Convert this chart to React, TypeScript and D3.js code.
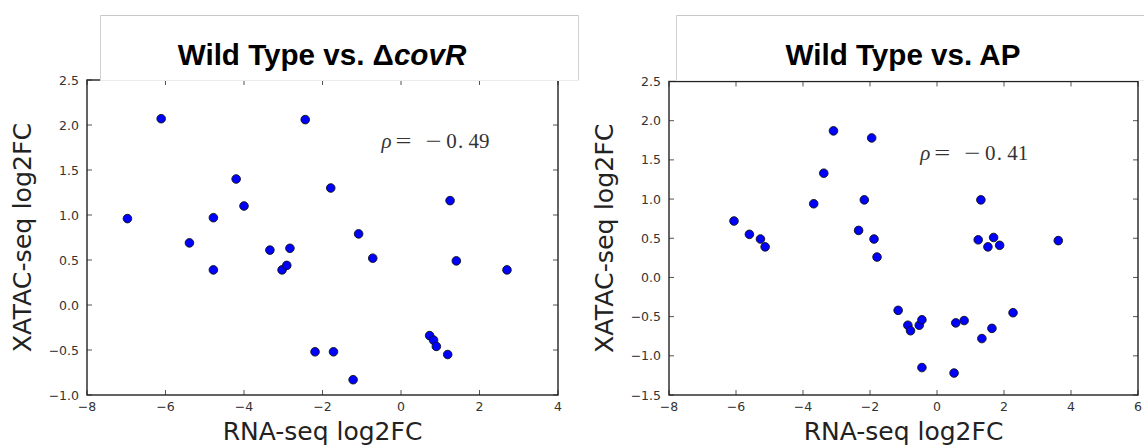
import React from 'react';
import * as d3 from 'd3';

// Wild Type vs. ΔcovR
const covrRna = [-6.97, -6.11, -5.39, -4.78, -4.78, -4.2, -4.0, -3.34, -3.03, -2.91, -2.83, -2.44, -2.19, -1.79, -1.72, -1.22, -1.08, -0.72, 0.73, 0.83, 0.9, 1.19, 1.25, 1.41, 2.7];
const covrAtac = [0.96, 2.07, 0.69, 0.97, 0.39, 1.4, 1.1, 0.61, 0.39, 0.44, 0.63, 2.06, -0.52, 1.3, -0.52, -0.83, 0.79, 0.52, -0.34, -0.39, -0.46, -0.55, 1.16, 0.49, 0.39];

// Wild Type vs. AP
const apRna = [-6.06, -5.6, -5.27, -5.13, -3.68, -3.38, -3.09, -2.34, -2.17, -1.95, -1.88, -1.79, -1.16, -0.87, -0.79, -0.53, -0.45, -0.45, 0.51, 0.56, 0.81, 1.23, 1.31, 1.34, 1.52, 1.64, 1.69, 1.87, 2.27, 3.62];
const apAtac = [0.72, 0.55, 0.49, 0.39, 0.94, 1.33, 1.87, 0.6, 0.99, 1.78, 0.49, 0.26, -0.42, -0.61, -0.68, -0.61, -0.54, -1.15, -1.22, -0.58, -0.55, 0.48, 0.99, -0.78, 0.39, -0.65, 0.51, 0.41, -0.45, 0.47];

const covrXTicks = [-8, -6, -4, -2, 0, 2, 4];
const covrYTicks = [-1, -0.5, 0, 0.5, 1, 1.5, 2, 2.5];
const apXTicks = [-8, -6, -4, -2, 0, 2, 4, 6];
const apYTicks = [-1.5, -1, -0.5, 0, 0.5, 1, 1.5, 2, 2.5];

const xLabel = 'RNA-seq log2FC';
const yLabel = 'XATAC-seq log2FC';

const fmtX = d3.format('d');
const fmtY = d3.format('.1f');

// mathtext style spacing for "ρ= −0. 49": [glyph, offset, horizontal stretch, italic]
const rhoParts = (r) => [
  ['ρ', 0, 1, true], ['=', 14, 1.35], ['−', 44, 1.35], ['0', 64.8, 1], ['.', 76.5, 1], [r[0], 87, 1], [r[1], 97.5, 1],
];

function Panel({ xs, ys, xTicks, yTicks, left, right, top, bottom, rho, rhoAt }) {
  const x = d3.scaleLinear().domain(d3.extent(xTicks)).range([left, right]);
  const y = d3.scaleLinear().domain(d3.extent(yTicks)).range([bottom, top]);
  const tk = 5;
  const midX = (left + right) / 2;
  const midY = (top + bottom) / 2;
  const rx = x(rhoAt[0]);
  const ry = y(rhoAt[1]);
  return (
    <g>
      {/* ticks on all four sides, pointing in */}
      {xTicks.map(t => (
        <g key={'x' + t} stroke="#555" strokeWidth={1}>
          <line x1={x(t)} x2={x(t)} y1={bottom} y2={bottom - tk} />
          <line x1={x(t)} x2={x(t)} y1={top} y2={top + tk} />
        </g>
      ))}
      {yTicks.map(t => (
        <g key={'y' + t} stroke="#555" strokeWidth={1}>
          <line x1={left} x2={left + tk} y1={y(t)} y2={y(t)} />
          <line x1={right} x2={right - tk} y1={y(t)} y2={y(t)} />
        </g>
      ))}
      <rect x={left} y={top} width={right - left} height={bottom - top} fill="none" stroke="#222" strokeWidth={1.4} />
      {xTicks.map(t => (
        <text key={'xl' + t} x={x(t)} y={bottom + 16} textAnchor="middle" fontFamily="DejaVu Sans" fontSize={12.5} fill="#333">
          {fmtX(t)}
        </text>
      ))}
      {yTicks.map(t => (
        <text key={'yl' + t} x={left - 8} y={y(t) + 4.5} textAnchor="end" fontFamily="DejaVu Sans" fontSize={12.5} fill="#333">
          {fmtY(t)}
        </text>
      ))}
      {xs.map((v, i) => (
        <circle key={i} cx={x(v)} cy={y(ys[i])} r={4.3} fill="#0000ff" stroke="#111" strokeWidth={0.9} />
      ))}
      <g fontFamily="Liberation Serif" fontSize={21} fill="#333">
        {rhoParts(rho).map(([s, dx, sx, it], i) => (
          <text key={i} transform={`translate(${rx + dx},${ry}) scale(${sx},1)`} fontStyle={it ? 'italic' : 'normal'}>{s}</text>
        ))}
      </g>
      <text x={midX} y={440} textAnchor="middle" fontFamily="DejaVu Sans" fontSize={25} fill="#222">{xLabel}</text>
      <text transform={`translate(${left - 56},${midY}) rotate(-90)`} textAnchor="middle" fontFamily="DejaVu Sans" fontSize={25.3} fill="#222">{yLabel}</text>
    </g>
  );
}

function TitleBox({ x0, x1, cx, children }) {
  return (
    <g>
      <rect x={x0} y={15.5} width={x1 - x0} height={65} fill="#fff" stroke="none" />
      <line x1={x0} x2={x1} y1={15.5} y2={15.5} stroke="#c8c8c8" />
      <line x1={x0} x2={x0} y1={15.5} y2={80.5} stroke="#d0d0d0" />
      <line x1={x1} x2={x1} y1={15.5} y2={80.5} stroke="#d0d0d0" />
      <line x1={x0} x2={x1} y1={80.5} y2={80.5} stroke="#ececec" />
      <text x={cx} y={64.5} textAnchor="middle" fontFamily="Liberation Sans" fontWeight="bold" fontSize={29.6} fill="#000">
        {children}
      </text>
    </g>
  );
}

export default function App() {
  return (
    <svg width={1144} height={445} style={{ position: 'absolute', left: 0, top: 0, background: '#fff' }}>
      <Panel xs={covrRna} ys={covrAtac} xTicks={covrXTicks} yTicks={covrYTicks}
        left={87} right={558} top={80} bottom={395} rho="49" rhoAt={[-0.5, 1.75]} />
      <Panel xs={apRna} ys={apAtac} xTicks={apXTicks} yTicks={apYTicks}
        left={669} right={1138} top={81.5} bottom={395} rho="41" rhoAt={[-0.5, 1.5]} />
      <TitleBox x0={100.5} x1={578.5} cx={322}>
        Wild Type vs. Δ<tspan fontStyle="italic">covR</tspan>
      </TitleBox>
      <TitleBox x0={676.5} x1={1150} cx={903}>
        Wild Type vs. AP
      </TitleBox>
    </svg>
  );
}
